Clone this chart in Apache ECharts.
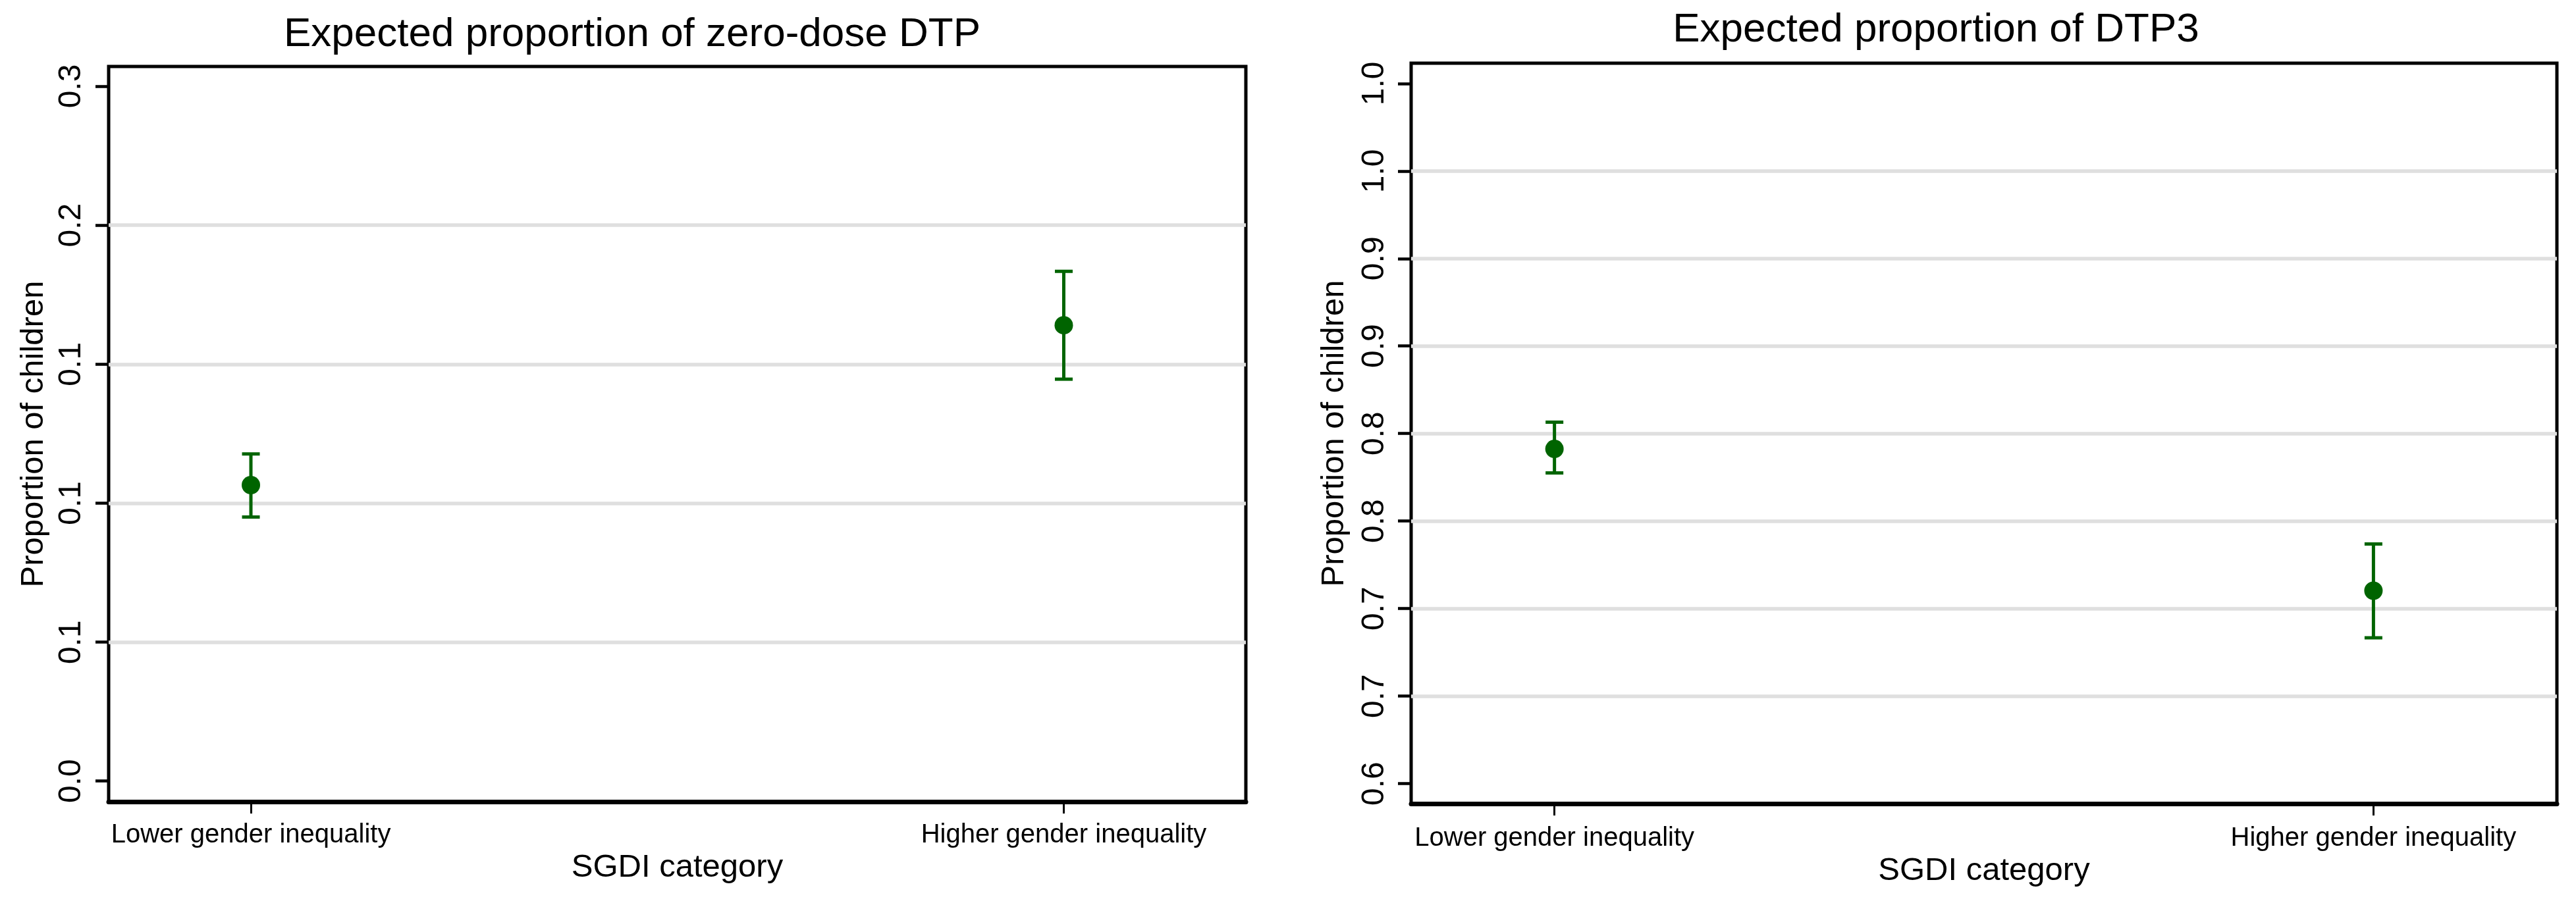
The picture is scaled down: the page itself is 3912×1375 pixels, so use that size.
<!DOCTYPE html>
<html>
<head>
<meta charset="utf-8">
<script src="https://cdn.jsdelivr.net/npm/echarts@6/dist/echarts.min.js"></script>
<style>
html,body{margin:0;padding:0;background:#fff;}
#chart{width:3912px;height:1375px;}
</style>
</head>
<body>
<div id="chart"></div>
<script>
// ---- data ----
const categories = ['Lower gender inequality', 'Higher gender inequality'];
const catPos = [1, 2];

const zeroDoseEst = [0.1065, 0.1640];
const zeroDoseLo  = [0.0950, 0.1446];
const zeroDoseHi  = [0.1177, 0.1834];

const dtp3Est = [0.7912, 0.7102];
const dtp3Lo  = [0.7775, 0.6833];
const dtp3Hi  = [0.8065, 0.7369];

const leftTicks = [0, 0.05, 0.1, 0.15, 0.2, 0.25];
const leftTickLabels = ['0.0', '0.1', '0.1', '0.1', '0.2', '0.3'];
const leftGridLines = [0.05, 0.1, 0.15, 0.2];

const rightTicks = [0.6, 0.65, 0.7, 0.75, 0.8, 0.85, 0.9, 0.95, 1.0];
const rightTickLabels = ['0.6', '0.7', '0.7', '0.8', '0.8', '0.9', '0.9', '1.0', '1.0'];
const rightGridLines = [0.65, 0.7, 0.75, 0.8, 0.85, 0.9, 0.95];

const titles = ['Expected proportion of zero-dose DTP', 'Expected proportion of DTP3'];
const yName = 'Proportion of children';
const xName = 'SGDI category';

// ---- styling ----
const GREEN = '#006400';
const FONT = 'Liberation Sans, Arial, Helvetica, sans-serif';

function lookup(ticks, labels) {
  return function (v) {
    for (let i = 0; i < ticks.length; i++) {
      if (Math.abs(ticks[i] - v) < 1e-6) return labels[i];
    }
    return '';
  };
}

function errRender(params, api) {
  const x = api.value(0), lo = api.value(1), hi = api.value(2);
  const a = api.coord([x, lo]);
  const b = api.coord([x, hi]);
  const hw = 13.5;
  const st = { stroke: GREEN, lineWidth: 5 };
  return {
    type: 'group',
    children: [
      { type: 'line', shape: { x1: a[0], y1: a[1], x2: b[0], y2: b[1] }, style: st },
      { type: 'line', shape: { x1: a[0] - hw, y1: a[1], x2: a[0] + hw, y2: a[1] }, style: st },
      { type: 'line', shape: { x1: b[0] - hw, y1: b[1], x2: b[0] + hw, y2: b[1] }, style: st }
    ]
  };
}

function xAxisFor(idx, labelMargin, nameGap) {
  return {
    type: 'value', gridIndex: idx, min: 0.825, max: 2.224,
    name: xName, nameLocation: 'middle', nameGap: nameGap,
    nameTextStyle: { fontFamily: FONT, fontSize: 49, color: '#000' },
    axisLine: { show: true, onZero: false, lineStyle: { color: '#000', width: 7 } },
    axisTick: { show: true, customValues: catPos, length: 18, lineStyle: { color: '#000', width: 3 } },
    axisLabel: {
      show: true, customValues: catPos, margin: labelMargin,
      fontFamily: FONT, fontSize: 40, color: '#000',
      formatter: lookup(catPos, categories)
    },
    splitLine: { show: false }
  };
}

function yAxisFor(idx, min, max, ticks, labels, nameGap, labelMargin) {
  return {
    type: 'value', gridIndex: idx, min: min, max: max,
    name: yName, nameLocation: 'middle', nameGap: nameGap,
    nameTextStyle: { fontFamily: FONT, fontSize: 49, color: '#000' },
    axisLine: { show: false },
    axisTick: { show: true, customValues: ticks, length: 20, lineStyle: { color: '#000', width: 4.5 } },
    axisLabel: {
      show: true, customValues: ticks, rotate: 90, margin: labelMargin,
      fontFamily: FONT, fontSize: 48, color: '#000',
      formatter: lookup(ticks, labels)
    },
    splitLine: { show: false }
  };
}

function gridLineMark(vals) {
  return {
    silent: true, symbol: 'none', z: 1,
    label: { show: false },
    lineStyle: { color: '#dfdfdf', width: 5.5, type: 'solid' },
    emphasis: { disabled: true },
    data: vals.map(v => ({ yAxis: v }))
  };
}

const chart = echarts.init(document.getElementById('chart'), null, { renderer: 'canvas' });

const option = {
  backgroundColor: '#fff',
  animation: false,
  title: [
    { text: titles[0], left: 960, top: 22, textAlign: 'center', padding: 0,
      textStyle: { fontFamily: FONT, fontSize: 62, fontWeight: 'normal', color: '#000' } },
    { text: titles[1], left: 2940, top: 15, textAlign: 'center', padding: 0,
      textStyle: { fontFamily: FONT, fontSize: 62, fontWeight: 'normal', color: '#000' } }
  ],
  grid: [
    { left: 165, right: 3912 - 1892, top: 101, bottom: 1375 - 1218, show: true,
      borderColor: '#000', borderWidth: 5, backgroundColor: '#fff', containLabel: false },
    { left: 2143, right: 3912 - 3883, top: 96, bottom: 1375 - 1221, show: true,
      borderColor: '#000', borderWidth: 5, backgroundColor: '#fff', containLabel: false }
  ],
  xAxis: [xAxisFor(0, 31, 72), xAxisFor(1, 33, 71)],
  yAxis: [
    yAxisFor(0, -0.0074, 0.2571, leftTicks, leftTickLabels, 89, 32),
    yAxisFor(1, 0.58855, 1.0116, rightTicks, rightTickLabels, 92, 31)
  ],
  series: [
    {
      type: 'custom', xAxisIndex: 0, yAxisIndex: 0, z: 3, silent: true,
      renderItem: errRender,
      data: catPos.map((x, i) => [x, zeroDoseLo[i], zeroDoseHi[i]])
    },
    {
      type: 'scatter', xAxisIndex: 0, yAxisIndex: 0, z: 4, silent: true,
      symbol: 'circle', symbolSize: 28, itemStyle: { color: GREEN, opacity: 1 },
      data: catPos.map((x, i) => [x, zeroDoseEst[i]]),
      markLine: gridLineMark(leftGridLines)
    },
    {
      type: 'custom', xAxisIndex: 1, yAxisIndex: 1, z: 3, silent: true,
      renderItem: errRender,
      data: catPos.map((x, i) => [x, dtp3Lo[i], dtp3Hi[i]])
    },
    {
      type: 'scatter', xAxisIndex: 1, yAxisIndex: 1, z: 4, silent: true,
      symbol: 'circle', symbolSize: 28, itemStyle: { color: GREEN, opacity: 1 },
      data: catPos.map((x, i) => [x, dtp3Est[i]]),
      markLine: gridLineMark(rightGridLines)
    }
  ]
};

chart.setOption(option);
</script>
</body>
</html>
